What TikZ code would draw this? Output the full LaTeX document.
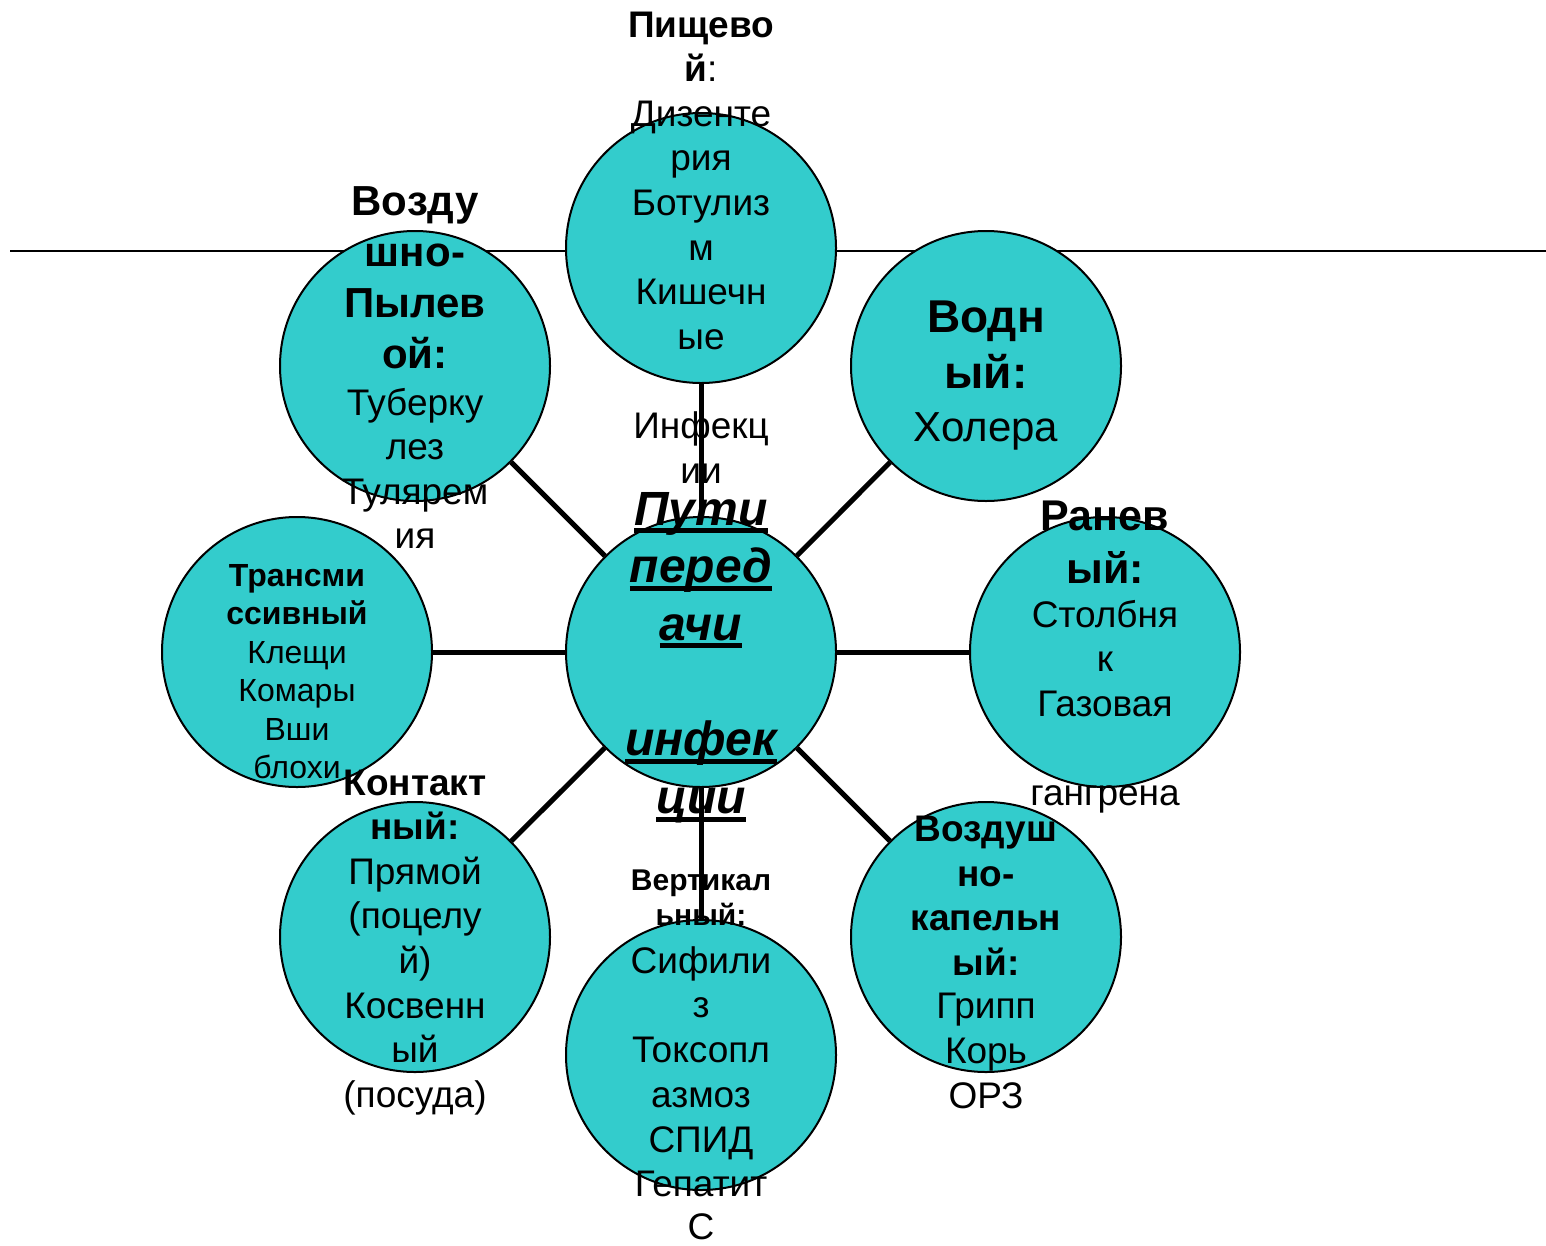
\documentclass[tikz,border=0pt]{standalone}
\usepackage{fontspec}
\setmainfont{Liberation Sans}
\definecolor{circfill}{HTML}{33CCCC}
\newcommand\ftN{\fontsize{37}{44}\selectfont}
\newcommand\ftB{\fontsize{37}{44}\selectfont\bfseries}
\newcommand\ftBL{\fontsize{42}{50}\selectfont\bfseries}
\newcommand\ftBW{\fontsize{46}{55}\selectfont\bfseries}
\newcommand\ftNW{\fontsize{42}{50}\selectfont}
\newcommand\ftBR{\fontsize{43}{52}\selectfont\bfseries}
\newcommand\ftS{\fontsize{32}{38}\selectfont}
\newcommand\ftSB{\fontsize{32}{38}\selectfont\bfseries}
\newcommand\ftV{\fontsize{30}{36}\selectfont\bfseries}
\newcommand\ftC{\fontsize{48}{58}\selectfont\bfseries\itshape}
\newcommand\ulw[1]{\setbox0\hbox{#1}\rlap{\rule[-8pt]{\wd0}{5pt}}\box0}
\begin{document}
\begin{tikzpicture}[x=1pt,y=-1pt,
  circ/.style={circle,draw=black,line width=2pt,fill=circfill,minimum size=270pt,inner sep=0pt},
  spoke/.style={line width=5pt,black},
  txt/.style={anchor=base,inner sep=0pt,outer sep=0pt,text=black}]
\useasboundingbox (0,0) rectangle (1546,1245);
\coordinate (hl) at (10,251);
\coordinate (hr) at (1546,251);
\draw[line width=2pt] (hl) -- (hr);
% circles
\node[circ] (C) at (701,652) {};
\node[circ] (T) at (701,248) {};
\node[circ] (W) at (986,366) {};
\node[circ] (LT) at (415,366) {};
\node[circ] (L) at (297,652) {};
\node[circ] (R) at (1105,652) {};
\node[circ] (LB) at (415,937) {};
\node[circ] (B) at (701,1055) {};
\node[circ] (RB) at (986,937) {};
% connectors
\foreach \n in {T,W,R,RB,B,LB,L,LT} \draw[spoke] (C) -- (\n);
% top circle text
\foreach \f/\t/\y [count=\i] in {\ftB/Пищево/37, \ftN/{\bfseries й}:/81.6, \ftN/Дизенте/126.2, \ftN/рия/170.8, \ftN/Ботулиз/215.4, \ftN/м/260, \ftN/Кишечн/304.6, \ftN/ые/349.2, \ftN/Инфекц/438.4, \ftN/ии/483}
  \node[txt] (tt\i) at (701,\y) {\f\t};
% left-top
\foreach \f/\t/\y [count=\i] in {\ftBL/Возду/215, \ftBL/шно-/266, \ftBL/Пылев/317, \ftBL/ой:/368, \ftN/Туберку/415, \ftN/лез/459, \ftN/Тулярем/504, \ftN/ия/548}
  \node[txt] (lt\i) at (415,\y) {\f\t};
% water
\foreach \f/\t/\y [count=\i] in {\ftBW/Водн/332, \ftBW/ый:/388, \ftNW/Холера/441}
  \node[txt] (wt\i) at (986,\y) {\f\t};
% wound
\foreach \f/\t/\y [count=\i] in {\ftBR/Ранев/530, \ftBR/ый:/583, \ftN/Столбня/627, \ftN/к/671, \ftN/Газовая/716, \ftN/гангрена/805}
  \node[txt] (rt\i) at (1105,\y) {\f\t};
% transmissive
\foreach \f/\t/\y [count=\i] in {\ftSB/Трансми/586, \ftSB/ссивный/624, \ftS/Клещи/663, \ftS/Комары/701, \ftS/Вши/740, \ftS/блохи/778}
  \node[txt] (lf\i) at (297,\y) {\f\t};
% contact
\foreach \f/\t/\y [count=\i] in {\ftB/Контакт/795, \ftB/ный:/839, \ftN/Прямой/884, \ftN/(поцелу/928, \ftN/й)/973, \ftN/Косвенн/1018, \ftN/ый/1062, \ftN/(посуда)/1107}
  \node[txt] (lb\i) at (415,\y) {\f\t};
% vertical
\foreach \f/\t/\y [count=\i] in {\ftV/Вертикал/890, \ftV/ьный:/925, \ftN/Сифили/973, \ftN/з/1017, \ftN/Токсопл/1062, \ftN/азмоз/1107, \ftN/СПИД/1152, \ftN/Гепатит/1196, \ftN/С/1239}
  \node[txt] (bt\i) at (701,\y) {\f\t};
% airborne droplet
\foreach \f/\t/\y [count=\i] in {\ftB/Воздуш/841, \ftB/но-/886, \ftB/капельн/930, \ftB/ый:/975, \ftN/Грипп/1018, \ftN/Корь/1063, \ftN/ОРЗ/1108}
  \node[txt] (rb\i) at (986,\y) {\f\t};
% centre
\foreach \t/\y [count=\i] in {Пути/525, перед/582.7, ачи/640.4, инфек/755.8, ции/813.5}
  \node[txt] (ct\i) at (701,\y) {\ftC\ulw{\t}};
\end{tikzpicture}
\end{document}
